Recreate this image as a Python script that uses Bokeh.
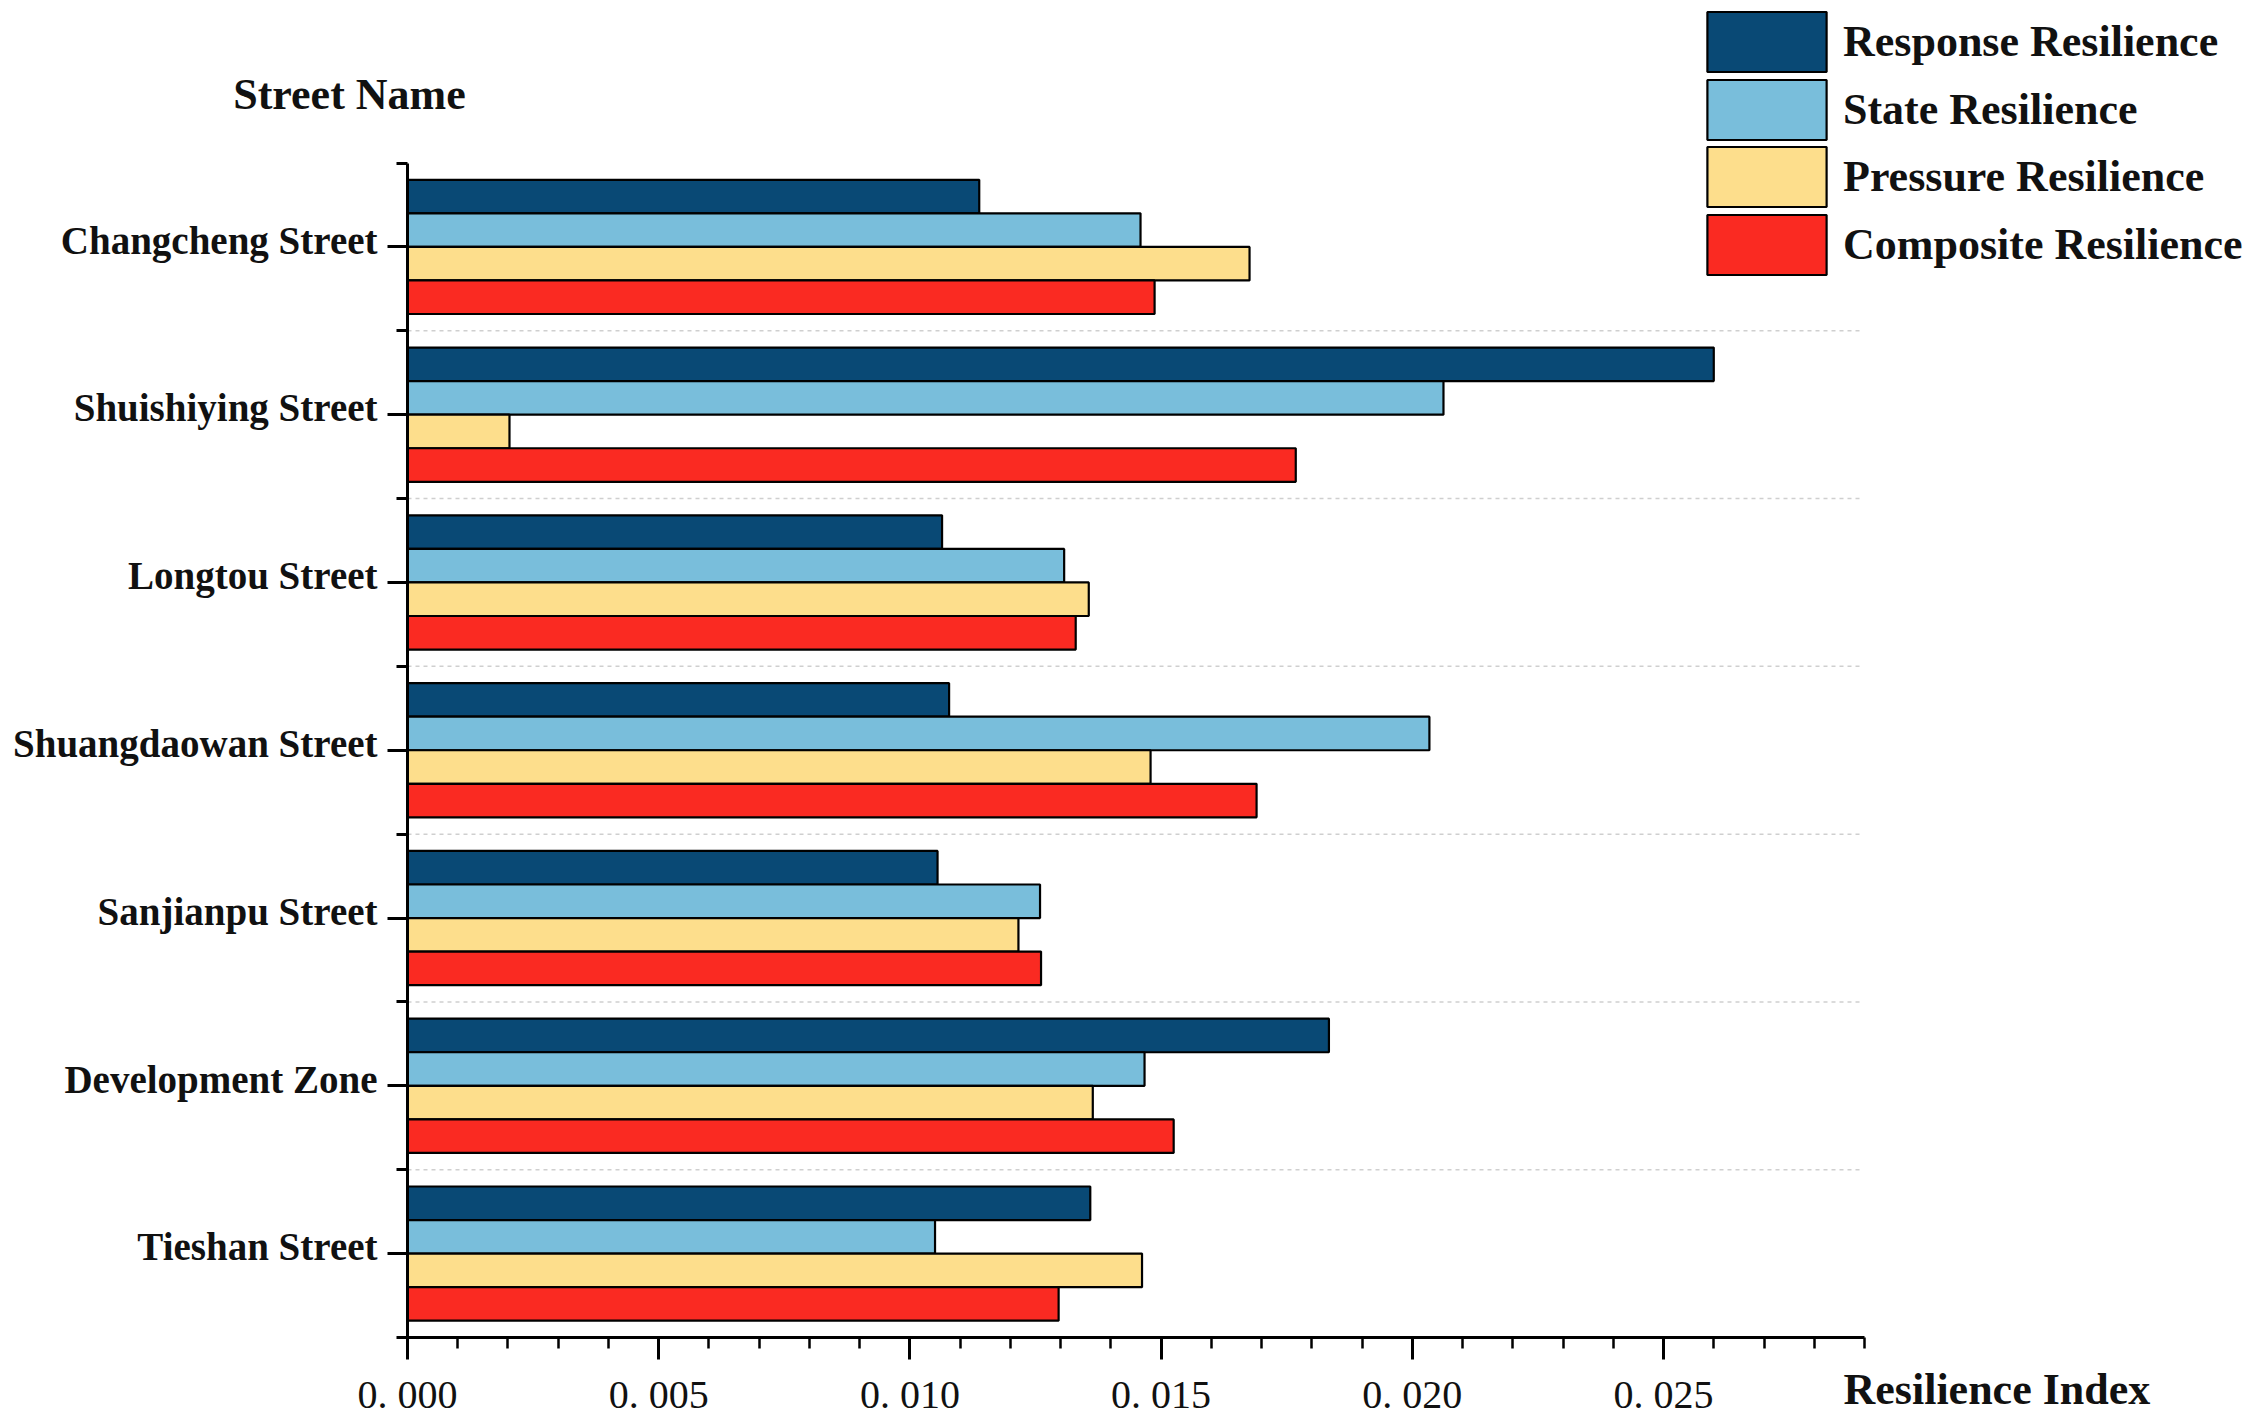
from bokeh.plotting import figure
from bokeh.models import (ColumnDataSource, FixedTicker, Legend, LegendItem, Label,
                          Range1d, LinearAxis)
from bokeh.embed import file_html
from bokeh.resources import INLINE

# ---------------- data ----------------
streets = ["Changcheng Street", "Shuishiying Street", "Longtou Street",
           "Shuangdaowan Street", "Sanjianpu Street", "Development Zone",
           "Tieshan Street"]
series_names = ["Response Resilience", "State Resilience",
                "Pressure Resilience", "Composite Resilience"]
response = [0.01138, 0.02600, 0.01064, 0.01078, 0.01055, 0.01834, 0.01359]
state = [0.01459, 0.02062, 0.01307, 0.02034, 0.01259, 0.01467, 0.01050]
pressure = [0.01676, 0.00203, 0.01356, 0.01479, 0.01216, 0.01364, 0.01462]
composite = [0.01487, 0.01768, 0.01330, 0.01690, 0.01261, 0.01525, 0.01296]
x_ticks = [0.000, 0.005, 0.010, 0.015, 0.020, 0.025]
x_tick_labels = ["0. 000", "0. 005", "0. 010", "0. 015", "0. 020", "0. 025"]
x_max = 0.029

colors = ["#094975", "#79BEDB", "#FDDE8C", "#FA2A22"]
offsets = [0.3, 0.1, -0.1, -0.3]
values = [response, state, pressure, composite]

FONT = "Liberation Serif"
n = len(streets)
centers = [n - 1 - i + 0.5 for i in range(n)]
separators = list(range(1, n))

# ---------------- layout (pixels) ----------------
W, H = 2255, 1421
AX_L, AX_R = 407, 1864      # x = 0 and x = x_max
AX_T, AX_B = 162.5, 1337    # y = n and y = 0
kx = x_max / (AX_R - AX_L)
ky = n / (AX_B - AX_T)

p = figure(width=W, height=H, output_backend="svg", toolbar_location=None,
           x_range=Range1d(-AX_L * kx, x_max + (W - AX_R) * kx),
           y_range=Range1d(-(H - AX_B) * ky, n + AX_T * ky),
           x_axis_location=None, y_axis_location=None,
           min_border=0, min_border_left=0, min_border_right=0,
           min_border_top=0, min_border_bottom=0)
p.outline_line_color = None
p.background_fill_color = "white"
p.border_fill_color = "white"
p.xgrid.visible = False
p.ygrid.visible = False

# dashed separators between categories
p.segment(x0=0, x1=x_max * 0.998, y0=separators, y1=separators,
          line_color="#cfcfcf", line_dash="4 4", line_width=1.5)

items = []
for name, vals, col, off in zip(series_names, values, colors, offsets):
    src = ColumnDataSource(dict(y=[c + off for c in centers], right=vals))
    r = p.hbar(y="y", left=0, right="right", height=0.2, source=src,
               fill_color=col, line_color="black", line_width=2.2)
    items.append(LegendItem(label=name, renderers=[r]))

# x axis
xa = LinearAxis(fixed_location=0, bounds=(0, x_max))
xa.ticker = FixedTicker(ticks=x_ticks,
                        minor_ticks=[k / 1000 for k in range(0, 30)])
xa.major_label_overrides = dict(zip(x_ticks, x_tick_labels))
xa.axis_line_width = 3
xa.major_tick_line_width = 3
xa.minor_tick_line_width = 2.5
xa.major_tick_out = 22
xa.major_tick_in = 0
xa.minor_tick_out = 11
xa.minor_tick_in = 0
xa.major_label_text_font = FONT
xa.major_label_text_font_size = "40px"
xa.major_label_text_font_style = "normal"
xa.major_label_text_color = "#111111"
xa.major_label_standoff = 12
p.add_layout(xa, "below")

# y axis: line and ticks
ya = LinearAxis(fixed_location=0, bounds=(0, n))
ya.ticker = FixedTicker(ticks=centers, minor_ticks=list(range(0, n + 1)))
ya.major_label_overrides = {c: "" for c in centers}
ya.axis_line_width = 3
ya.major_tick_line_width = 3
ya.minor_tick_line_width = 3
ya.major_tick_out = 20
ya.major_tick_in = 0
ya.minor_tick_out = 11
ya.minor_tick_in = 0
p.add_layout(ya, "left")

# y axis: category labels (nudged a little above the tick marks)
label_pos = [c + 0.04 for c in centers]
yl = LinearAxis(fixed_location=0, bounds=(0, n))
yl.ticker = FixedTicker(ticks=label_pos, minor_ticks=[])
yl.major_label_overrides = {c: s for c, s in zip(label_pos, streets)}
yl.axis_line_color = None
yl.major_tick_line_color = None
yl.minor_tick_line_color = None
yl.major_tick_out = 20
yl.major_tick_in = 0
yl.major_label_text_font = FONT
yl.major_label_text_font_size = "39px"
yl.major_label_text_font_style = "bold"
yl.major_label_text_color = "#111111"
yl.major_label_standoff = 10
p.add_layout(yl, "left")

# titles as labels
p.add_layout(Label(x=349, y=H - 93.5, x_units="screen", y_units="screen",
                   text="Street Name", text_font=FONT, text_font_size="44px",
                   text_font_style="bold", text_align="center",
                   text_baseline="middle", text_color="#111111"))
p.add_layout(Label(x=1843, y=H - 1389, x_units="screen", y_units="screen",
                   text="Resilience Index", text_font=FONT, text_font_size="44px",
                   text_font_style="bold", text_align="left",
                   text_baseline="middle", text_color="#111111"))

# legend: one entry per box so the rows can sit closer than the box height
GLW, GLH = 149, 75          # swatch drawn at 80% of these
top0, pitch = 11.5, 67.6    # top of first swatch, row pitch
for i, it in enumerate(items):
    sw_top = top0 + i * pitch
    lg = Legend(items=[it], location=(1692, H - (sw_top - 0.1 * GLH) - GLH),
                glyph_width=GLW, glyph_height=GLH, label_height=GLH,
                spacing=0, padding=0, margin=0, label_standoff=2,
                label_text_font=FONT, label_text_font_size="44px",
                label_text_font_style="bold", label_text_baseline="middle",
                label_text_color="#111111",
                border_line_alpha=0, background_fill_alpha=0)
    p.add_layout(lg)

open("out.html", "w").write(file_html(p, INLINE))
